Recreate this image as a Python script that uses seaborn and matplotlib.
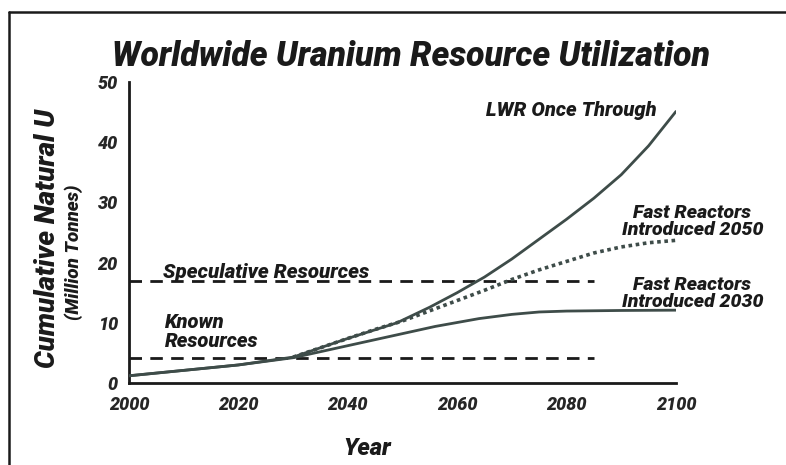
import numpy as np
import pandas as pd
import matplotlib
matplotlib.use("Agg")
import matplotlib.pyplot as plt
import seaborn as sns

# ── Data ───────────────────────────────────────────────
lwr_years = [2000, 2010, 2020, 2030, 2040, 2049, 2055, 2060, 2065, 2070, 2075,
             2080, 2085, 2090, 2095, 2100]
lwr_vals  = [1.2, 2.1, 3.0, 4.3, 7.4, 10.0, 12.6, 15.0, 17.6, 20.6, 23.9,
             27.2, 30.7, 34.6, 39.4, 45.1]

fr50_years = [2000, 2010, 2020, 2030, 2040, 2045, 2050, 2055, 2060, 2065, 2070,
              2075, 2080, 2085, 2090, 2095, 2100]
fr50_vals  = [1.2, 2.1, 3.0, 4.3, 7.4, 8.9, 10.3, 12.0, 13.7, 15.4, 17.2,
              18.8, 20.2, 21.6, 22.6, 23.3, 23.7]

fr30_years = [2000, 2010, 2020, 2030, 2040, 2049, 2056, 2064, 2070, 2075, 2080, 2090, 2100]
fr30_vals  = [1.2, 2.1, 3.0, 4.2, 6.2, 8.0, 9.4, 10.7, 11.4, 11.8, 11.95, 12.05, 12.1]

resource_names  = ["Speculative Resources", "Known\nResources"]
resource_levels = [17.0, 4.2]
resource_span   = [2000, 2085]

x_ticks = [2000, 2020, 2040, 2060, 2080, 2100]
y_ticks = [0, 10, 20, 30, 40, 50]

curves = pd.concat([
    pd.DataFrame({"year": lwr_years, "u": lwr_vals, "case": "LWR"}),
    pd.DataFrame({"year": fr50_years, "u": fr50_vals, "case": "FR2050"}),
    pd.DataFrame({"year": fr30_years, "u": fr30_vals, "case": "FR2030"}),
])

# ── Style ──────────────────────────────────────────────
sns.set_theme(style="white")
plt.rcParams.update({
    "font.family": ["Roboto", "Liberation Sans", "DejaVu Sans"],
    "font.weight": "black",
    "font.style": "italic",
    "axes.edgecolor": "#1a1a1a",
    "text.color": "#1a1a1a",
})
CURVE = "#3e4c49"
INK = "#1a1a1a"
W = "black"

fig = plt.figure(figsize=(7.86, 4.65), dpi=100, facecolor="white")
ax = fig.add_axes([0.164, 0.1763, 0.696, 0.6474])

# resource limits
for name, lvl in zip(resource_names, resource_levels):
    ax.plot(resource_span, [lvl, lvl], color=INK, lw=2.0,
            linestyle=(0, (4.5, 3)), dash_capstyle="butt", zorder=2)

sns.lineplot(data=curves[curves.case == "LWR"], x="year", y="u",
             color=CURVE, lw=2.0, ax=ax, zorder=3)
sns.lineplot(data=curves[curves.case == "FR2030"], x="year", y="u",
             color=CURVE, lw=2.0, ax=ax, zorder=3)
fr50 = curves[(curves.case == "FR2050") & (curves.year >= 2030)]
sns.lineplot(data=fr50, x="year", y="u", color=CURVE, lw=2.6,
             linestyle=(0, (1, 1)), dash_capstyle="butt", ax=ax, zorder=3)

ax.set_xlim(2000, 2100)
ax.set_ylim(0, 50)
ax.set_xticks(x_ticks)
ax.set_yticks(y_ticks)
ax.set_xlabel("")
ax.set_ylabel("")
for s in ["top", "right"]:
    ax.spines[s].set_visible(False)
for s in ["left", "bottom"]:
    ax.spines[s].set_linewidth(2.0)
    ax.spines[s].set_color(INK)
ax.tick_params(axis="both", direction="out", length=5, width=2, color=INK,
               labelsize=13, pad=3)
ax.tick_params(axis="x", pad=4)
for lab in ax.get_xticklabels() + ax.get_yticklabels():
    lab.set_fontweight(W)
    lab.set_fontstyle("italic")

tk = dict(fontweight=W, fontstyle="italic", color=INK)

# curve labels
ax.text(2096.5, 45.2, "LWR Once Through", ha="right", va="center", fontsize=14.5, **tk)
ax.text(2103, 26.8, "Fast Reactors\nIntroduced 2050", ha="center", va="center",
        fontsize=14, linespacing=0.95, **tk)
ax.text(2103, 14.9, "Fast Reactors\nIntroduced 2030", ha="center", va="center",
        fontsize=14, linespacing=0.95, **tk)
ax.text(2006.2, 18.4, resource_names[0], ha="left", va="center", fontsize=14.8, **tk)
ax.text(2006.6, 8.5, resource_names[1], ha="left", va="center", fontsize=14.5,
        linespacing=0.98, **tk)

# titles and axis labels
fig.text(411 / 786, 1 - 56 / 465, "Worldwide Uranium Resource Utilization",
         ha="center", va="center", fontsize=24.3, **tk)
fig.text(48 / 786, 1 - 238 / 465, "Cumulative Natural U", rotation=90,
         ha="center", va="center", fontsize=20, **tk)
fig.text(74 / 786, 1 - 252 / 465, "(Million Tonnes)", rotation=90,
         ha="center", va="center", fontsize=13.5, **tk)
fig.text(367 / 786, 1 - 448 / 465, "Year", ha="center", va="center",
         fontsize=17, **tk)

# slide frame (left and top edges)
fig.add_artist(plt.Line2D([9 / 786, 9 / 786], [0, 1 - 12 / 465],
                          transform=fig.transFigure, color=INK, lw=1.8))
fig.add_artist(plt.Line2D([9 / 786, 1], [1 - 12 / 465, 1 - 12 / 465],
                          transform=fig.transFigure, color=INK, lw=1.8))

fig.savefig("out.png", dpi=100, facecolor="white")
